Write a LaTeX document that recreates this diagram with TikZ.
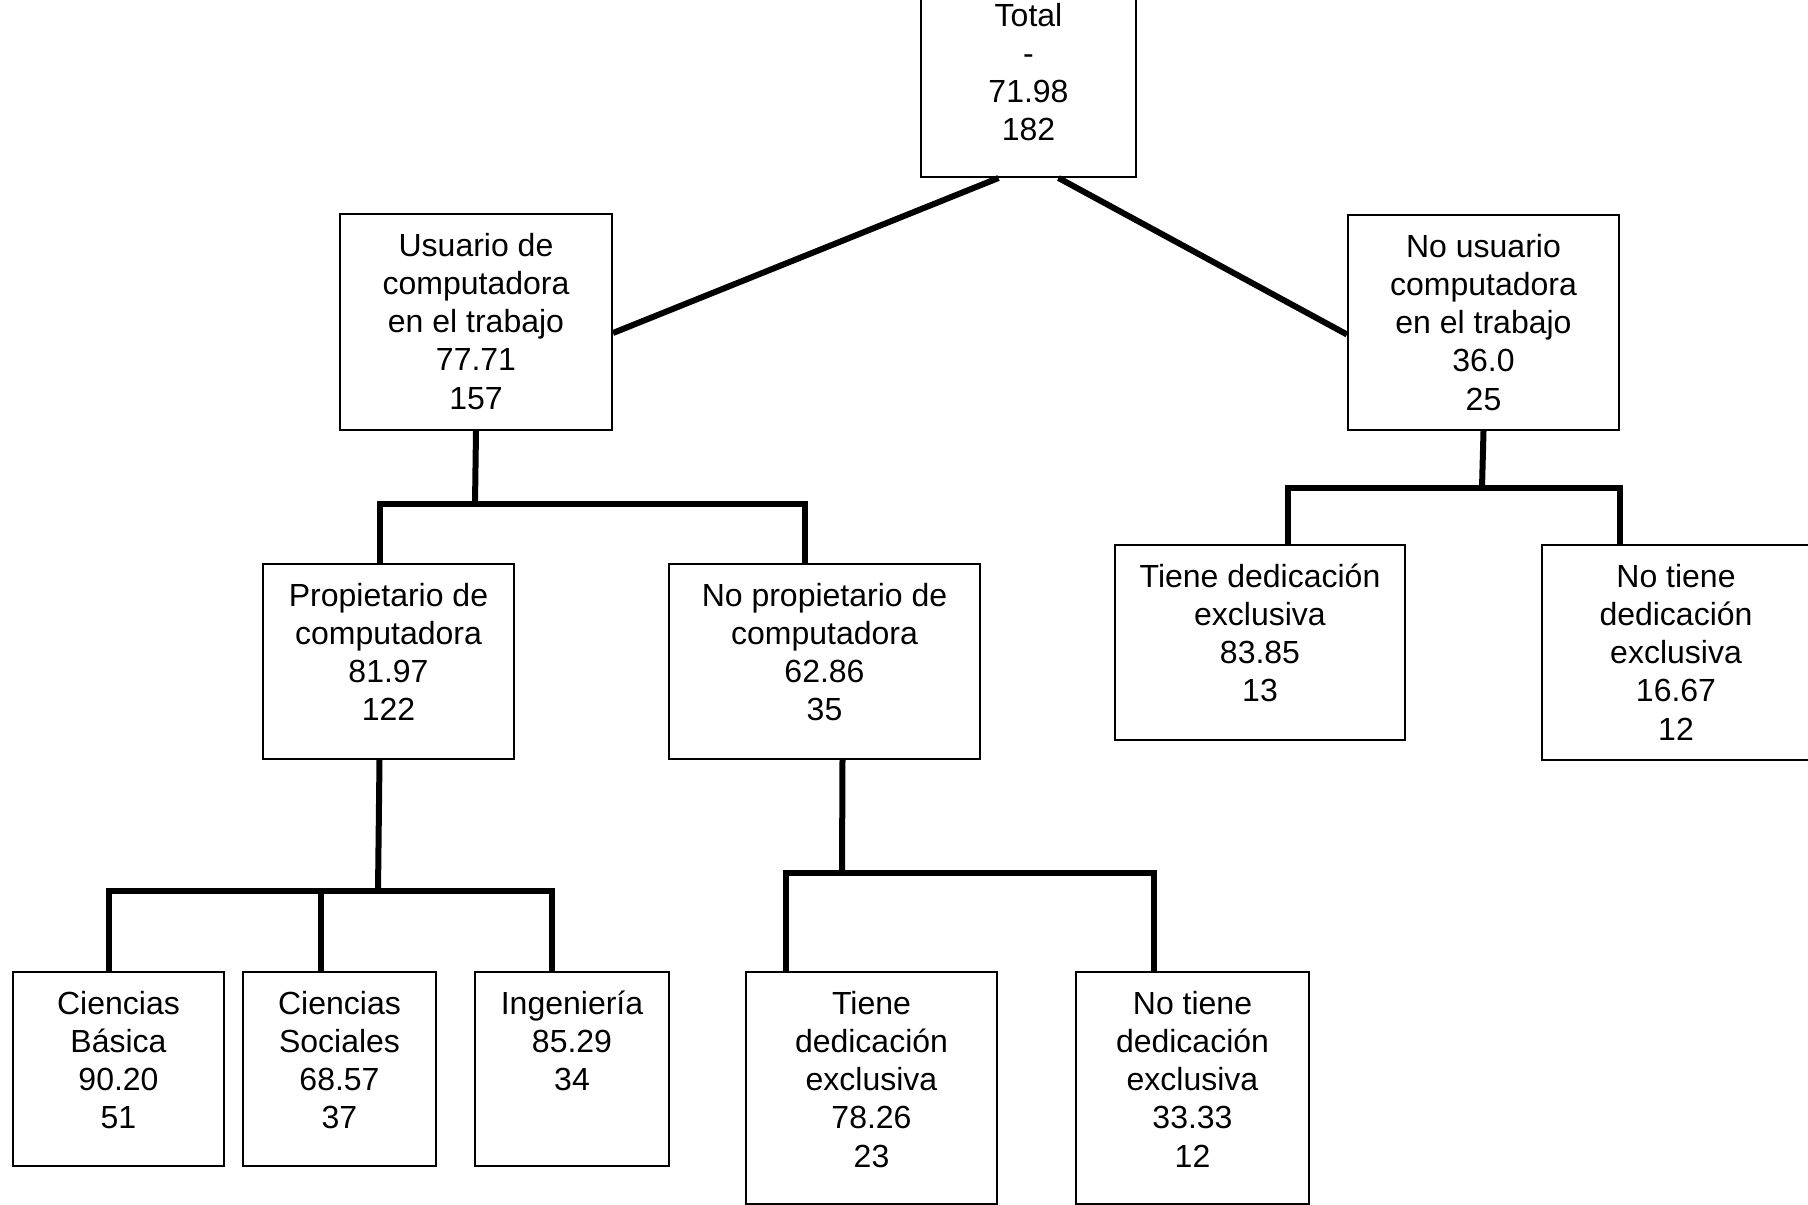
\documentclass[tikz,border=0pt]{standalone}
\usepackage{fontspec}
\setmainfont{Liberation Sans}
\begin{document}
\begin{tikzpicture}[x=1pt,y=-1pt,
    box/.style={draw, line width=2pt, inner sep=0pt, anchor=north west},
    txt/.style={anchor=north, align=center, inner sep=0pt, font=\fontsize{32}{38.3}\selectfont},
    link/.style={line width=6pt}]
    \useasboundingbox (0,0) rectangle (1808,1205);
    % boxes
    \node [box, minimum width=215pt, minimum height=193pt] (tot)      at (920,-17) {};
    \node [box, minimum width=272pt, minimum height=216pt] (usu)      at (339,213) {};
    \node [box, minimum width=271pt, minimum height=215pt] (nousu)    at (1347,214) {};
    \node [box, minimum width=251pt, minimum height=195pt] (prop)     at (262,563) {};
    \node [box, minimum width=311pt, minimum height=195pt] (noprop)   at (668,563) {};
    \node [box, minimum width=290pt, minimum height=195pt] (tieneR)   at (1114,544) {};
    \node [box, minimum width=268pt, minimum height=215pt] (notieneR) at (1541,544) {};
    \node [box, minimum width=211pt, minimum height=194pt] (basica)   at (12,971) {};
    \node [box, minimum width=193pt, minimum height=194pt] (sociales) at (242,971) {};
    \node [box, minimum width=194pt, minimum height=194pt] (ing)      at (474,971) {};
    \node [box, minimum width=251pt, minimum height=232pt] (tieneB)   at (745,971) {};
    \node [box, minimum width=233pt, minimum height=232pt] (notieneB) at (1075,971) {};
    % texts
    \node [txt] (tot-t)      at ([yshift=-16pt]tot.north)      {\strut Total\\-\\71.98\\182};
    \node [txt] (usu-t)      at ([yshift=-16pt]usu.north)      {\strut Usuario de\\computadora\\en el trabajo\\77.71\\157};
    \node [txt] (nousu-t)    at ([yshift=-16pt]nousu.north)    {\strut No usuario\\computadora\\en el trabajo\\36.0\\25};
    \node [txt] (prop-t)     at ([yshift=-16pt]prop.north)     {\strut Propietario de\\computadora\\81.97\\122};
    \node [txt] (noprop-t)   at ([yshift=-16pt]noprop.north)   {\strut No propietario de\\computadora\\62.86\\35};
    \node [txt] (tieneR-t)   at ([yshift=-16pt]tieneR.north)   {\strut Tiene dedicación\\exclusiva\\83.85\\13};
    \node [txt] (notieneR-t) at ([yshift=-16pt]notieneR.north) {\strut No tiene\\dedicación\\exclusiva\\16.67\\12};
    \node [txt] (basica-t)   at ([yshift=-16pt]basica.north)   {\strut Ciencias\\Básica\\90.20\\51};
    \node [txt] (sociales-t) at ([yshift=-16pt]sociales.north) {\strut Ciencias\\Sociales\\68.57\\37};
    \node [txt] (ing-t)      at ([yshift=-16pt]ing.north)      {\strut Ingeniería\\85.29\\34};
    \node [txt] (tieneB-t)   at ([yshift=-16pt]tieneB.north)   {\strut Tiene\\dedicación\\exclusiva\\78.26\\23};
    \node [txt] (notieneB-t) at ([yshift=-16pt]notieneB.north) {\strut No tiene\\dedicación\\exclusiva\\33.33\\12};
    % junctions
    \coordinate (j-usu)    at (475,504);
    \coordinate (j-nousu)  at (1482,488);
    \coordinate (j-prop)   at (378,891);
    \coordinate (j-noprop) at (842,873);
    % connectors
    \draw [link] ([xshift=-30pt]tot.south) -- ([yshift=-11pt]usu.east);
    \draw [link] ([xshift=30pt]tot.south) -- ([yshift=-12pt]nousu.west);
    \draw [link] (usu.south) -- (j-usu);
    \draw [link] ([xshift=-9pt]prop.north) |- (j-usu) -| ([xshift=-20pt]noprop.north);
    \draw [link] (nousu.south) -- (j-nousu);
    \draw [link] ([xshift=28pt]tieneR.north) |- (j-nousu) -| ([xshift=-56pt]notieneR.north);
    \draw [link] ([xshift=-9pt]prop.south) -- (j-prop);
    \draw [link] ([xshift=-10pt]basica.north) |- (j-prop) -| ([xshift=-20pt]ing.north);
    \draw [link] ([xshift=-19pt]sociales.north) -- ([xshift=-19pt]sociales.north |- j-prop);
    \draw [link] ([xshift=18pt]noprop.south) -- (j-noprop);
    \draw [link] ([xshift=-86pt]tieneB.north) |- (j-noprop) -| ([xshift=-39pt]notieneB.north);
\end{tikzpicture}
\end{document}
